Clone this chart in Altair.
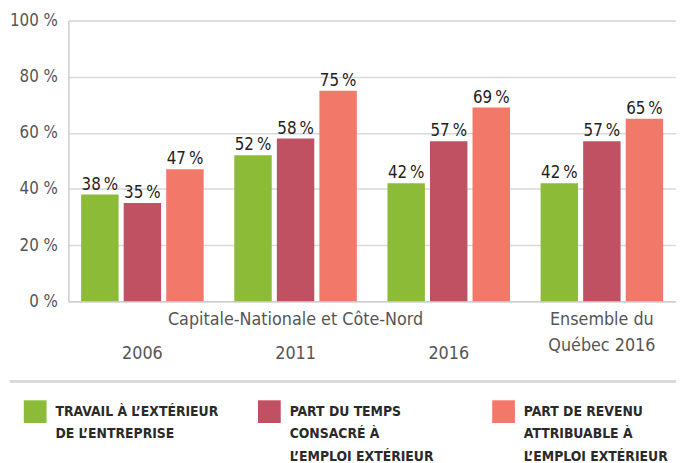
import altair as alt
import pandas as pd

groups = ["2006", "2011", "2016", "Québec 2016"]
series = [
    "TRAVAIL À L’EXTÉRIEUR|DE L’ENTREPRISE",
    "PART DU TEMPS|CONSACRÉ À|L’EMPLOI EXTÉRIEUR",
    "PART DE REVENU|ATTRIBUABLE À|L’EMPLOI EXTÉRIEUR",
]
colors = ["#8CBB38", "#C05163", "#F2786A"]

travail = [38, 52, 42, 42]
temps = [35, 58, 57, 57]
revenu = [47, 75, 69, 65]

row1_labels = ["", "Capitale-Nationale et Côte-Nord", "", "Ensemble du"]
row2_labels = ["2006", "2011", "2016", ""]
row2b_labels = ["", "", "", "Québec 2016"]

rows = []
for s, vals in zip(series, [travail, temps, revenu]):
    for g, v in zip(groups, vals):
        rows.append({"group": g, "series": s, "value": v, "label": f"{v}\u2009%"})
df = pd.DataFrame(rows)
cats = pd.DataFrame({"group": groups, "r1": row1_labels, "r2": row2_labels, "r2b": row2b_labels})

FONT = "DejaVu Sans Condensed, Roboto, sans-serif"
W, H = 615, 284

x_enc = alt.X(
    "group:N", sort=groups,
    scale=alt.Scale(paddingInner=0.2, paddingOuter=0.084),
    axis=alt.Axis(labels=False, ticks=False, title=None, domainColor="#cfcfcf", domainWidth=1.5),
)
xo_enc = alt.XOffset("series:N", sort=series, scale=alt.Scale(paddingInner=0.12))
y_enc = alt.Y(
    "value:Q",
    scale=alt.Scale(domain=[0, 100]),
    axis=alt.Axis(
        values=[0, 20, 40, 60, 80, 100], labelExpr="datum.value + ' %'", title=None,
        ticks=False, labelPadding=11, labelFont=FONT, labelFontSize=17, labelColor="#555555",
        gridColor="#d9d9d9", gridWidth=1.5, domainColor="#cfcfcf", domainWidth=1.5,
    ),
)

base = alt.Chart(df)
bars = base.mark_bar().encode(
    x=x_enc, xOffset=xo_enc, y=y_enc,
    color=alt.Color(
        "series:N", sort=series,
        scale=alt.Scale(domain=series, range=colors),
        legend=alt.Legend(
            title=None, orient="none", legendX=-45, legendY=384, direction="horizontal",
            columns=3, columnPadding=40, gridAlign="all", symbolType="square", symbolSize=529,
            symbolStrokeWidth=0,
            labelExpr="length(split(datum.label, '|')) < 3 ? split(datum.label + '| ', '|') : split(datum.label, '|')",
            labelFont=FONT, labelFontSize=14, labelFontWeight="bold",
            labelColor="#2a2a2a", labelLimit=400, labelOffset=9, labelBaseline="middle",
        ),
    ),
)
vals = base.mark_text(baseline="alphabetic", dy=-5, font=FONT, fontSize=17, color="#222222").encode(
    x=x_enc, xOffset=xo_enc, y=y_enc, text="label:N"
)

cbase = alt.Chart(cats)
r1 = cbase.mark_text(baseline="middle", font=FONT, fontSize=18, color="#555555").encode(
    x=alt.X("group:N", sort=groups), y=alt.value(H + 19), text="r1:N"
)
r2 = cbase.mark_text(baseline="middle", font=FONT, fontSize=18, color="#555555").encode(
    x=alt.X("group:N", sort=groups), y=alt.value(H + 53), text="r2:N"
)
r2b = cbase.mark_text(baseline="middle", font=FONT, fontSize=18, color="#555555").encode(
    x=alt.X("group:N", sort=groups), y=alt.value(H + 45), text="r2b:N"
)
sep = alt.Chart(cats).mark_rule(color="#d9d9d9", strokeWidth=2.5).encode(
    x=alt.value(-59), x2=alt.value(W), y=alt.value(365)
)

chart = alt.layer(bars, vals, r1, r2, r2b, sep).properties(
    width=W, height=H,
    autosize=alt.AutoSizeParams(type="none"),
    padding={"left": 61, "top": 10, "right": 0, "bottom": 165},
).configure_view(stroke=None).configure(
    font=FONT, style={"guide-label": {"lineHeight": 23}}
)

chart.save("out.html", embed_options={"renderer": "svg", "actions": False})
